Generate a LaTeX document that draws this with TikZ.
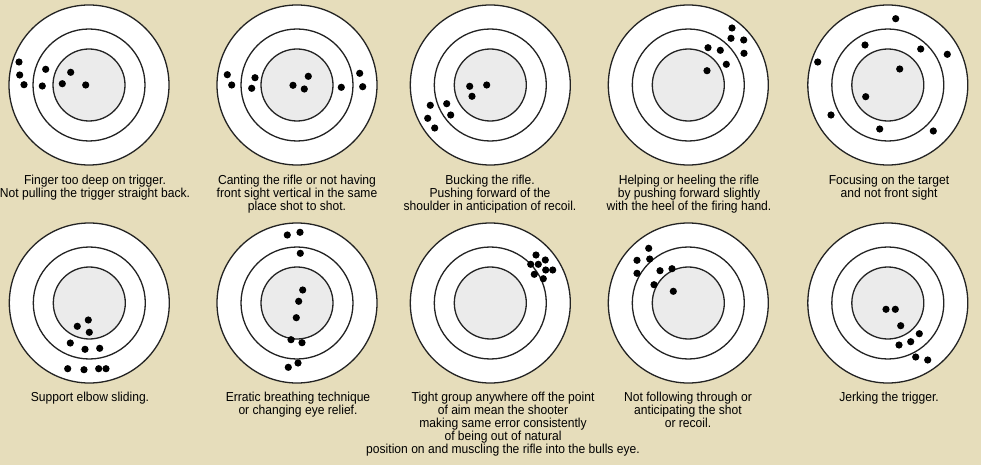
\documentclass[tikz,border=0pt]{standalone}
\usepackage{fontspec}
\setmainfont{Liberation Sans}[FakeStretch=0.93]
\definecolor{paper}{RGB}{230,221,187}
\definecolor{bull}{RGB}{235,235,235}
\definecolor{ink}{RGB}{35,35,35}
\tikzset{
  ring/.style={circle, draw=ink, line width=1.3pt, inner sep=0pt, fill=white},
  caption/.style={anchor=north, align=center, inner sep=0pt, font=\fontsize{13}{13}\selectfont},
}

\begin{document}
\begin{tikzpicture}[x=1pt, y=-1pt]
    \useasboundingbox (0,0) rectangle (981,465);
    \fill[paper] (0,0) rectangle (981,465);
    \clip (0,0) rectangle (981,465);
    \foreach[count=\i] \cx/\cy/\shots in {
        89/85/{19/62,19.7/75,24/84.7,45.7/69.3,42.3/86,70.7/72.3,62.3/83.7,85.7/85},
        297/85/{227.3/74.7,231.7/85,255/77.7,251.7/88.3,293/85.3,308.3/76.3,304.3/89,341.3/87.3,359.7/73.3,362.7/86.7},
        490.3/85/{469.7/86.3,486.7/85,472/96.3,430.3/105.3,446.7/103.7,427.7/118.3,450.7/115,434.7/128},
        688.3/85/{732/28,731/38.3,743.7/40,744/53.3,708/47.7,720.3/50.3,726.3/64.3,707/70.7},
        887.8/85/{895.7/18.7,865/45,920.7/49,947.3/54.3,817.7/62,899.7/69,865.7/96.7,831/115,879.7/129,933.3/131},
        89.3/303/{88.3/320,77.3/326.3,89.3/332.3,70.3/343,85/349.3,99.7/348.3,67.7/368.7,84/369.7,98.7/368.7,106/368.7},
        297/303/{287.3/235,300/232.3,300.3/253.3,302.7/290,298.7/301.3,296.3/317.7,291/339.7,302/342.7,298/363,288.3/367.3},
        490.3/303/{536/255,545.3/260,530.7/264.3,538.3/264.3,545.7/270,552.7/270,534.3/274.3,543.3/278.7},
        688.3/303/{648.7/248.3,637/260.3,649.7/259,637/273.3,660/270.7,672/268.7,654/284.7,673.3/291.3},
        887.8/303/{886/309.3,895.3/309.3,900.7/325.7,919.3/333.7,910.7/341.7,899/345,915.7/357,927.7/360}} {
        \node[ring, minimum size=160] (out-\i) at (\cx,\cy) {};
        \node[ring, minimum size=112] (mid-\i) at (out-\i.center) {};
        \node[ring, minimum size=72, fill=bull] (bull-\i) at (out-\i.center) {};
        \foreach \sx/\sy in \shots {
            \fill (\sx,\sy) circle (3.6);
        }
    }
    \foreach[count=\i] \tx/\ty/\txt in {
        95/175/{Finger too deep on trigger.\\Not pulling the trigger straight back.},
        297/175/{Canting the rifle or not having\\front sight vertical in the same\\place shot to shot.},
        490/175/{Bucking the rifle.\\Pushing forward of the\\shoulder in anticipation of recoil.},
        689/175/{Helping or heeling the rifle\\by pushing forward slightly\\with the heel of the firing hand.},
        889/175/{Focusing on the target\\and not front sight},
        90/392/{Support elbow sliding.},
        298/392/{Erratic breathing technique\\or changing eye relief.},
        503/392/{Tight group anywhere off the point\\of aim mean the shooter\\making same error consistently\\of being out of natural\\position on and muscling the rifle into the bulls eye.},
        688/392/{Not following through or\\anticipating the shot\\or recoil.},
        889/392/{Jerking the trigger.}} {
        \node[caption] (cap-\i) at (\tx,\ty) {\txt};
    }
\end{tikzpicture}
\end{document}
